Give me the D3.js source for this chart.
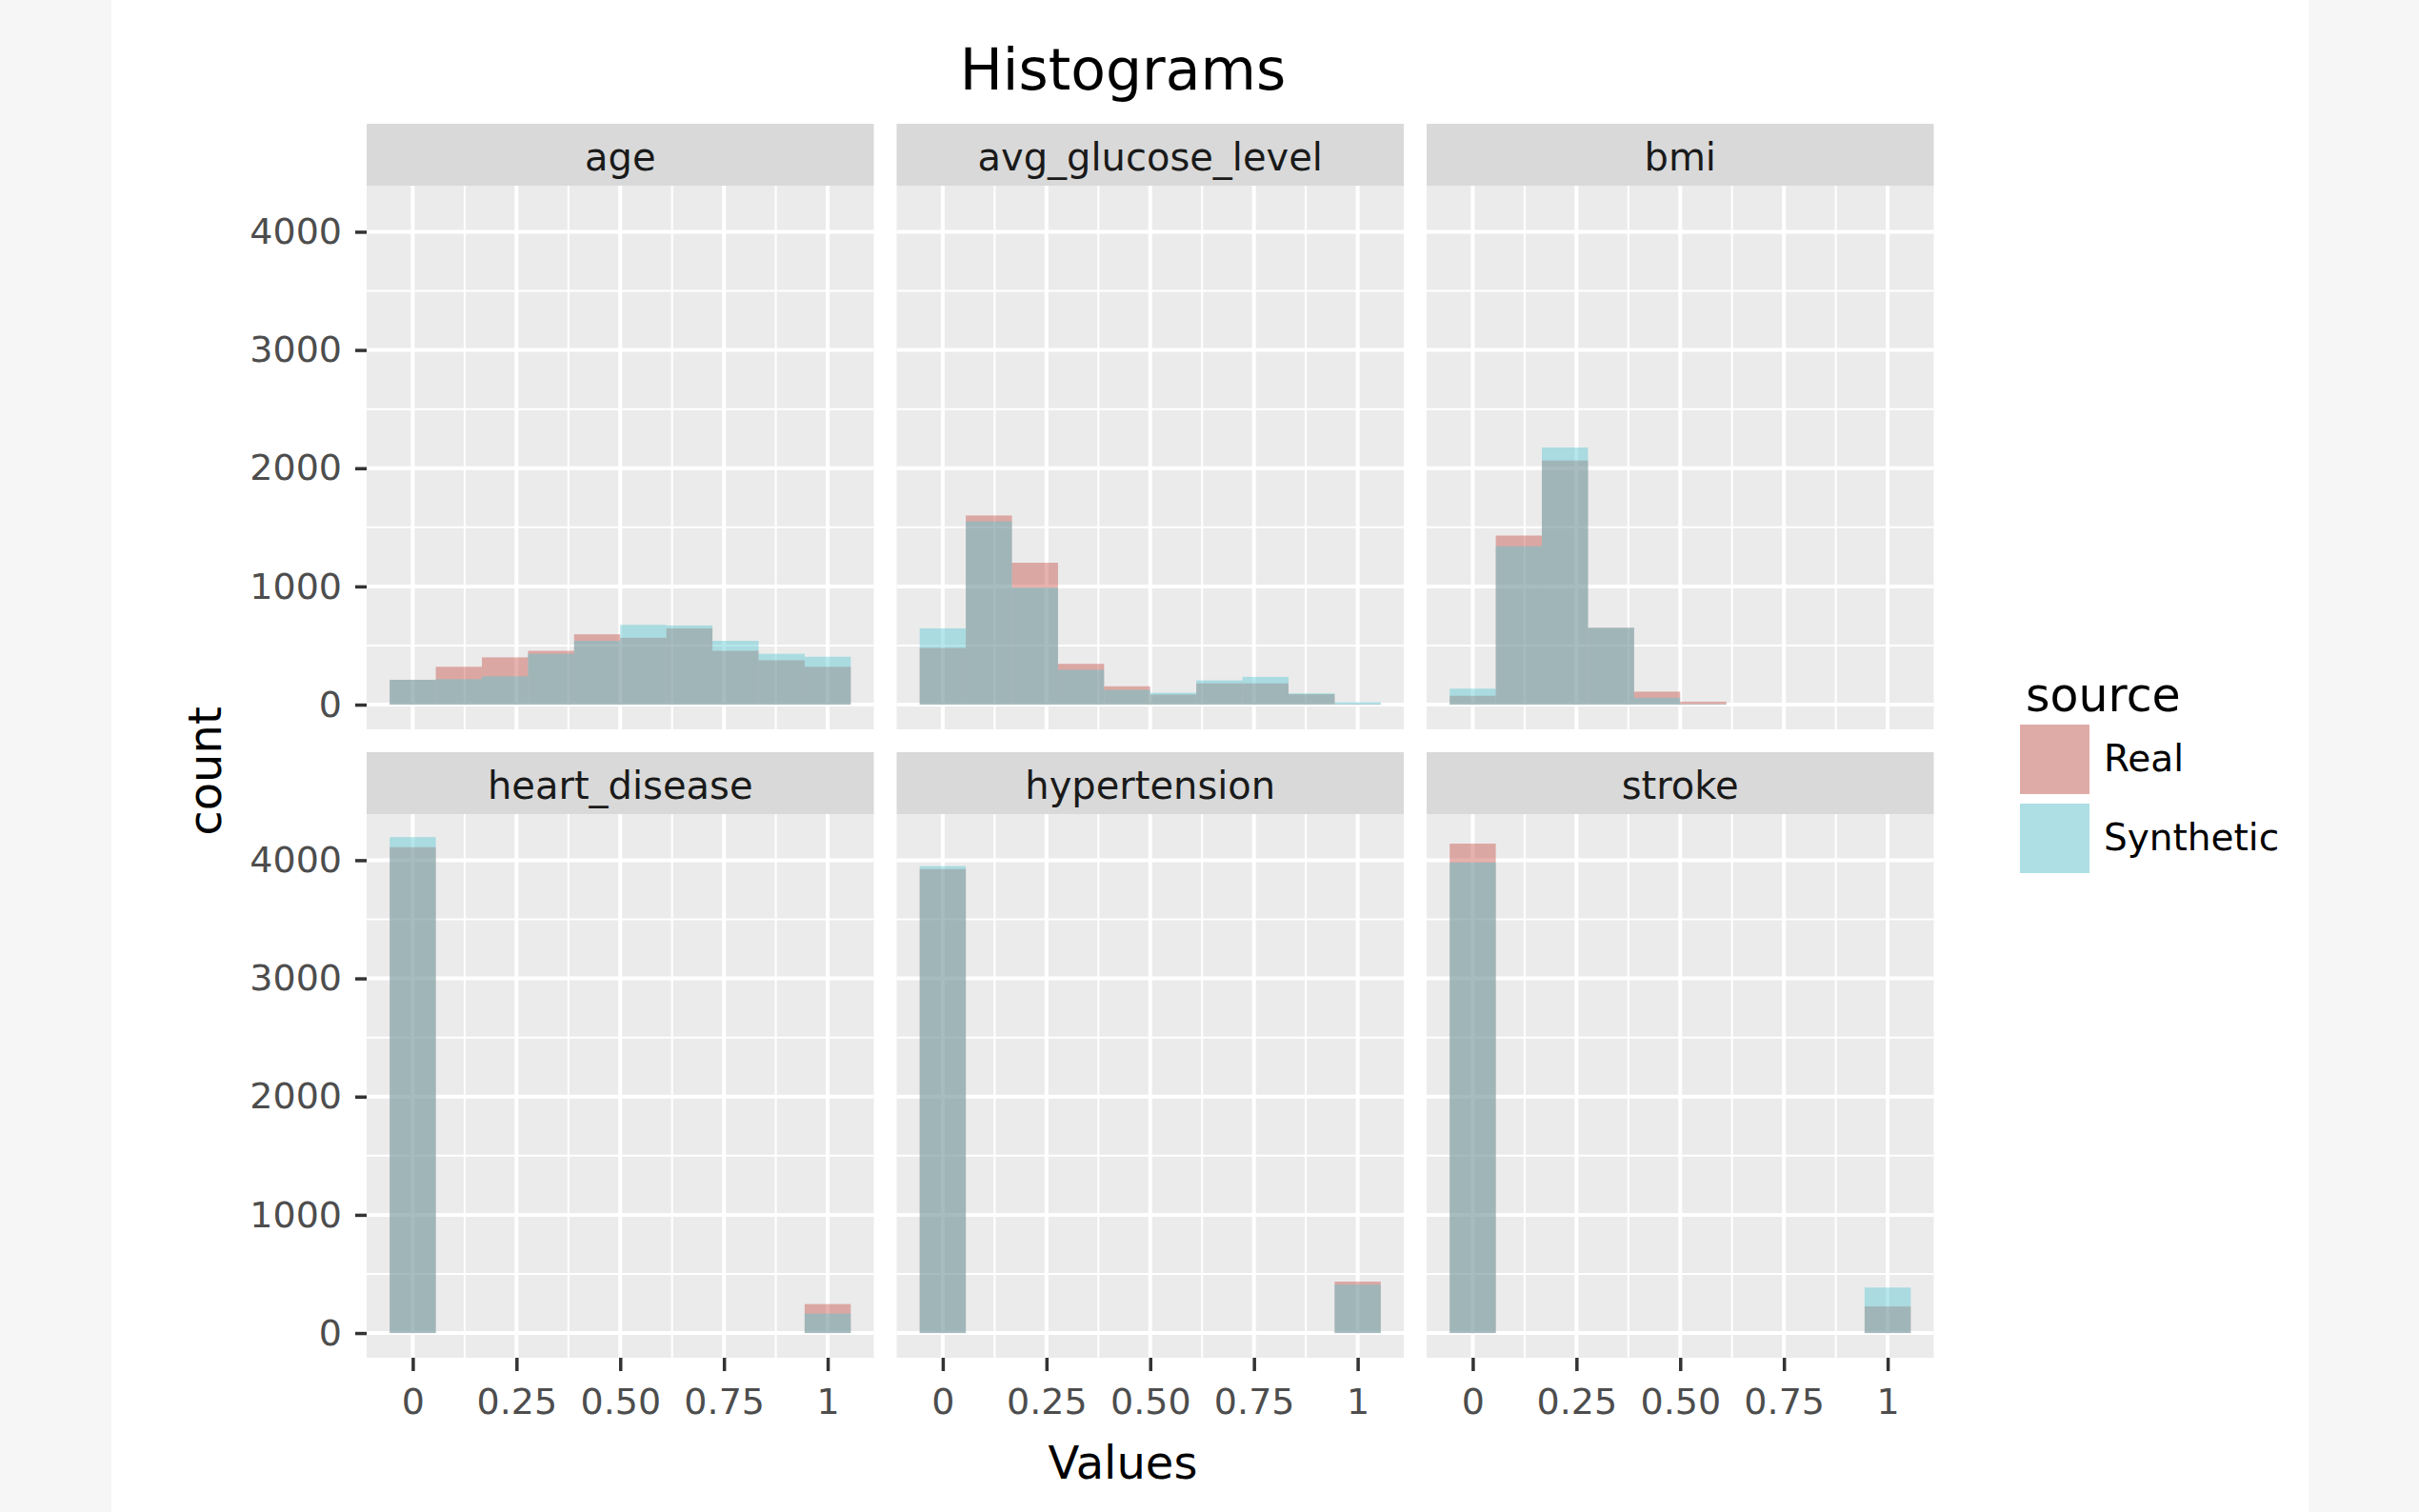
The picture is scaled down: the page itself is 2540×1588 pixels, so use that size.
<!DOCTYPE html>
<html>
<head>
<meta charset="utf-8">
<script src="https://cdn.jsdelivr.net/npm/d3@7"></script>
<style>
  body { margin: 0; background: #f6f6f6; }
  svg { display: block; font-family: "DejaVu Sans", sans-serif; }
</style>
</head>
<body>
<div class="chart"></div>
<script>
// ---------------------------------------------------------------
// Data (counts per bin, 10 bins over [0, 1])

const variables = ["age", "avg_glucose_level", "bmi", "heart_disease", "hypertension", "stroke"];
const sources = ["Real", "Synthetic"];

const binCenters = [0, 0.1111, 0.2222, 0.3333, 0.4444, 0.5556, 0.6667, 0.7778, 0.8889, 1];
const binWidth = 0.1111;

const realAge = [210, 320, 400, 455, 595, 565, 645, 455, 375, 320];
const synthAge = [210, 215, 240, 430, 540, 675, 670, 540, 430, 405];

const realGlucose = [480, 1600, 1200, 345, 155, 85, 180, 180, 88, 5];
const synthGlucose = [645, 1550, 990, 295, 125, 100, 205, 235, 95, 20];

const realBmi = [75, 1430, 2065, 650, 110, 25, 0, 0, 0, 0];
const synthBmi = [135, 1340, 2175, 650, 58, 5, 0, 0, 0, 0];

const realHeart = [4110, 0, 0, 0, 0, 0, 0, 0, 0, 245];
const synthHeart = [4195, 0, 0, 0, 0, 0, 0, 0, 0, 165];

const realHyper = [3925, 0, 0, 0, 0, 0, 0, 0, 0, 435];
const synthHyper = [3950, 0, 0, 0, 0, 0, 0, 0, 0, 410];

const realStroke = [4140, 0, 0, 0, 0, 0, 0, 0, 0, 225];
const synthStroke = [3980, 0, 0, 0, 0, 0, 0, 0, 0, 385];

const xTicks = [0, 0.25, 0.5, 0.75, 1];
const xTickLabels = ["0", "0.25", "0.50", "0.75", "1"];
const xMinor = [0.125, 0.375, 0.625, 0.875];
const yTicks = [0, 1000, 2000, 3000, 4000];
const yTickLabels = ["0", "1000", "2000", "3000", "4000"];
const yMinor = [500, 1500, 2500, 3500];

// build per-panel rows from the arrays above
const realByVar = [realAge, realGlucose, realBmi, realHeart, realHyper, realStroke];
const synthByVar = [synthAge, synthGlucose, synthBmi, synthHeart, synthHyper, synthStroke];

const panels = variables.map((name, i) => ({
    name: name,
    col: i % 3,
    row: Math.floor(i / 3),
    bars: sources.flatMap(src => {
        const counts = src === "Real" ? realByVar[i] : synthByVar[i];
        return binCenters.map((c, j) => ({ source: src, x0: c - binWidth / 2, x1: c + binWidth / 2, count: counts[j] }));
    })
}));

// ---------------------------------------------------------------
// Layout

const W = 2540, H = 1588;
const panelW = 532.5, panelH = 571, gapX = 24, gapY = 24, stripH = 65;
const left0 = 385, top0 = 130;

const fillColor = d3.scaleOrdinal().domain(sources).range(["rgb(200,84,76)", "rgb(89,200,211)"]);
const fillAlpha = 0.45;

let xScale = d3.scaleLinear().domain([-1 / 9, 10 / 9]).range([0, panelW]);
let yScale = d3.scaleLinear().domain([-209, 4390]).range([panelH, 0]);

let svg = d3.select(".chart")
    .append("svg")
        .attr("width", W)
        .attr("height", H);

// page background: white sheet with grey margins
svg.append("rect")
    .attr("x", 117).attr("y", 0)
    .attr("width", 2424 - 117).attr("height", H)
    .attr("fill", "#ffffff");

// title
svg.append("text")
    .attr("x", 1179).attr("y", 94)
    .attr("text-anchor", "middle")
    .attr("font-size", 60)
    .attr("fill", "#000")
    .text("Histograms");

// ---------------------------------------------------------------
// Panels

panels.forEach(p => {
    const px = left0 + p.col * (panelW + gapX);
    const stripTop = top0 + p.row * (stripH + panelH + gapY);
    const py = stripTop + stripH;

    // strip
    svg.append("rect")
        .attr("x", px).attr("y", stripTop)
        .attr("width", panelW).attr("height", stripH)
        .attr("fill", "#D9D9D9");
    svg.append("text")
        .attr("x", px + panelW / 2).attr("y", stripTop + 49)
        .attr("text-anchor", "middle")
        .attr("font-size", 40)
        .attr("fill", "#1A1A1A")
        .text(p.name);

    let g = svg.append("g").attr("transform", "translate(" + px + "," + py + ")");

    g.append("rect")
        .attr("width", panelW).attr("height", panelH)
        .attr("fill", "#EBEBEB");

    // minor grid
    g.selectAll("line.xminor").data(xMinor).enter().append("line")
        .attr("x1", d => xScale(d)).attr("x2", d => xScale(d))
        .attr("y1", 0).attr("y2", panelH)
        .attr("stroke", "#fff").attr("stroke-width", 2);
    g.selectAll("line.yminor").data(yMinor).enter().append("line")
        .attr("x1", 0).attr("x2", panelW)
        .attr("y1", d => yScale(d)).attr("y2", d => yScale(d))
        .attr("stroke", "#fff").attr("stroke-width", 2);

    // major grid
    g.selectAll("line.xmajor").data(xTicks).enter().append("line")
        .attr("x1", d => xScale(d)).attr("x2", d => xScale(d))
        .attr("y1", 0).attr("y2", panelH)
        .attr("stroke", "#fff").attr("stroke-width", 4);
    g.selectAll("line.ymajor").data(yTicks).enter().append("line")
        .attr("x1", 0).attr("x2", panelW)
        .attr("y1", d => yScale(d)).attr("y2", d => yScale(d))
        .attr("stroke", "#fff").attr("stroke-width", 4);

    // bars: Real drawn first, Synthetic on top, both translucent
    g.selectAll("rect.bar")
        .data(p.bars.filter(d => d.count > 0))
        .enter()
            .append("rect")
                .attr("class", "bar")
                .attr("x", d => xScale(d.x0))
                .attr("width", d => xScale(d.x1) - xScale(d.x0))
                .attr("y", d => yScale(d.count))
                .attr("height", d => yScale(0) - yScale(d.count))
                .attr("fill", d => fillColor(d.source))
                .attr("fill-opacity", fillAlpha);

    // y axis on the left column only
    if (p.col === 0) {
        let ya = g.append("g")
            .call(d3.axisLeft(yScale).tickValues(yTicks)
                .tickFormat((d, i) => yTickLabels[i])
                .tickSize(12).tickPadding(14));
        styleAxis(ya);
    }

    // x axis on the bottom row only
    if (p.row === 1) {
        let xa = g.append("g")
            .attr("transform", "translate(0," + panelH + ")")
            .call(d3.axisBottom(xScale).tickValues(xTicks)
                .tickFormat((d, i) => xTickLabels[i])
                .tickSize(14).tickPadding(18));
        styleAxis(xa);
    }
});

function styleAxis(a) {
    a.select(".domain").remove();
    a.selectAll(".tick line").attr("stroke", "#333333").attr("stroke-width", 3.5);
    a.selectAll(".tick text")
        .attr("font-size", 38)
        .attr("font-family", "DejaVu Sans")
        .attr("fill", "#4D4D4D");
}

// axis titles
svg.append("text")
    .attr("x", 1179).attr("y", 1553)
    .attr("text-anchor", "middle")
    .attr("font-size", 48)
    .attr("fill", "#000")
    .text("Values");

svg.append("text")
    .attr("transform", "translate(232,810) rotate(-90)")
    .attr("text-anchor", "middle")
    .attr("font-size", 48)
    .attr("fill", "#000")
    .text("count");

// ---------------------------------------------------------------
// Legend

let legend = svg.append("g");
legend.append("text")
    .attr("x", 2127).attr("y", 747)
    .attr("font-size", 49)
    .attr("fill", "#000")
    .text("source");

let keyY = d3.scaleOrdinal().domain(sources).range([761, 844]);

let keys = legend.selectAll("g.key").data(sources).enter().append("g");
keys.append("rect")
    .attr("x", 2121).attr("y", d => keyY(d))
    .attr("width", 73).attr("height", 73)
    .attr("fill", "#F2F2F2");
keys.append("rect")
    .attr("x", 2121).attr("y", d => keyY(d))
    .attr("width", 73).attr("height", 73)
    .attr("fill", d => fillColor(d))
    .attr("fill-opacity", fillAlpha);
keys.append("text")
    .attr("x", 2209).attr("y", d => keyY(d) + 36 + 13)
    .attr("font-size", 39)
    .attr("fill", "#000")
    .text(d => d);
</script>
</body>
</html>
